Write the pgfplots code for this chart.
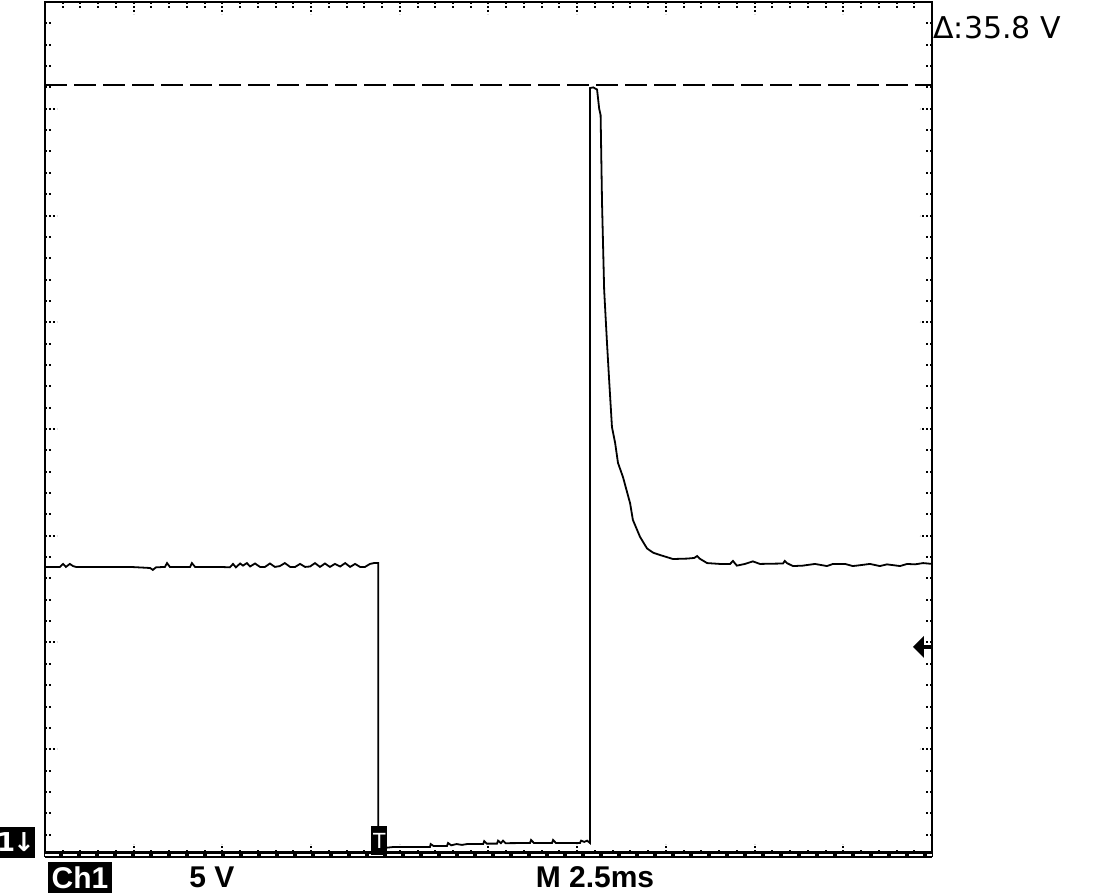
\documentclass[border=0pt]{standalone}
\usepackage{fontspec}
\setmainfont{Liberation Sans}
\newfontfamily\dejavu{DejaVu Sans}
\usepackage{pgfplots}
\pgfplotsset{compat=1.18}
\begin{document}
\begin{tikzpicture}
\useasboundingbox (-22.5pt,-19.5pt) rectangle (524.5pt,428pt);
\begin{axis}[
  scale only axis, width=443.5pt, height=427pt,
  at={(0,0)}, anchor=south west,
  xmin=0, xmax=25, ymin=0, ymax=40,
  xtick={0,2.5,...,25}, ytick={0,5,...,40},
  minor x tick num=4, minor y tick num=4,
  xticklabels={}, yticklabels={},
  tick align=inside,
  major tick length=6pt, minor tick length=3pt,
  every tick/.style={black, line width=1pt, dash pattern=on 1pt off 1pt},
  axis line style={line width=1.3pt},
  clip=false,
]
% cursors
\addplot[black, line width=1pt, dash pattern=on 11pt off 3.5pt] coordinates {(0,36.11) (25,36.11)};
\addplot[black, line width=3.5pt] coordinates {(0,0.08) (25,0.08)};
\addplot[white, line width=0.8pt, dash pattern=on 7pt off 2pt] coordinates {(0,0.05) (25,0.05)};
% trace
\addplot[black, line width=0.9pt] coordinates {
(0,13.54) (0.42,13.54) (0.51,13.68) (0.59,13.54) (0.70,13.68) (0.79,13.58) (0.87,13.54) (1.55,13.54) (2.40,13.54) (2.96,13.49) (3.04,13.40) (3.13,13.52) (3.38,13.54) (3.44,13.72) (3.52,13.54) (4.09,13.54) (4.14,13.72) (4.23,13.54) (4.93,13.54) (5.21,13.52) (5.30,13.68) (5.38,13.52) (5.50,13.70) (5.58,13.60) (5.69,13.72) (5.78,13.56) (5.92,13.70) (6.06,13.54) (6.20,13.54) (6.34,13.70) (6.48,13.54) (6.62,13.58) (6.76,13.72) (6.91,13.54) (7.05,13.54) (7.19,13.68) (7.33,13.54) (7.47,13.56) (7.61,13.72) (7.75,13.54) (7.89,13.70) (8.03,13.54) (8.17,13.68) (8.32,13.56) (8.46,13.72) (8.60,13.54) (8.74,13.68) (8.88,13.54) (9.02,13.54) (9.16,13.68) (9.27,13.72) (9.39,13.72)
(9.39,0.35)
(9.81,0.42) (10.85,0.42) (10.87,0.56) (10.95,0.47) (11.33,0.47) (11.36,0.61) (11.45,0.50) (11.60,0.56) (11.75,0.52) (11.90,0.56) (11.98,0.56) (12.35,0.56) (12.38,0.70) (12.45,0.58) (12.74,0.58) (12.77,0.72) (12.85,0.60) (12.91,0.72) (12.98,0.60) (13.67,0.61) (13.70,0.75) (13.78,0.61) (14.29,0.61) (14.32,0.75) (14.40,0.61) (15.08,0.61) (15.11,0.72) (15.20,0.66) (15.28,0.72) (15.36,0.61)
(15.36,35.97) (15.45,36.0) (15.56,35.90) (15.62,35.0) (15.66,34.7) (15.70,30.59) (15.76,26.51) (15.84,24.03) (15.90,22.30) (15.98,20.09) (16.07,19.34) (16.15,18.41) (16.29,17.75) (16.49,16.53) (16.57,15.74) (16.77,14.95) (16.97,14.40) (17.15,14.20) (17.33,14.10) (17.70,13.91) (18.10,13.93) (18.30,13.96) (18.38,14.05) (18.45,13.93) (18.66,13.72) (19.02,13.68) (19.31,13.68) (19.39,13.82) (19.50,13.60) (19.73,13.68) (19.95,13.80) (20.15,13.68) (20.80,13.70) (20.85,13.82) (20.91,13.72) (21.08,13.58) (21.36,13.60) (21.70,13.68) (22.04,13.58) (22.21,13.68) (22.55,13.68) (22.77,13.58) (22.97,13.62) (23.25,13.68) (23.53,13.58) (23.73,13.66) (24.10,13.58) (24.30,13.68) (24.52,13.66) (24.75,13.72) (25.0,13.68)
};
% trigger position marker
\node[fill=black, text=white, inner sep=0pt, minimum width=8pt, minimum height=14.5pt, anchor=south, font=\fontsize{11}{11}\selectfont] at (axis cs:9.42,0.03) {T};
% trigger level arrow
\fill[black] ([xshift=-9.5pt]axis cs:25,9.79) -- ([xshift=-4pt,yshift=5.5pt]axis cs:25,9.79) -- ([xshift=-4pt,yshift=-5.5pt]axis cs:25,9.79) -- cycle;
\fill[black] ([xshift=-4.5pt,yshift=-1pt]axis cs:25,9.79) rectangle ([yshift=1pt]axis cs:25,9.79);
\end{axis}
% labels outside
\node[anchor=base west, font=\dejavu\fontsize{15}{15}\selectfont, inner sep=0pt] at (444pt,408.5pt) {Δ:35.8 V};
\node[fill=black, text=white, inner sep=0pt, minimum width=32pt, minimum height=15.5pt, font=\bfseries\fontsize{15}{15}\selectfont] at (17.5pt,-10.75pt) {Ch1};
\node[anchor=base, inner sep=0pt, font=\bfseries\fontsize{15}{15}\selectfont] at (83.5pt,-16pt) {5 V};
\node[anchor=base, inner sep=0pt, font=\bfseries\fontsize{15}{15}\selectfont] at (275pt,-16pt) {M 2.5ms};
\node[fill=black, text=white, inner sep=0pt, minimum width=16pt, minimum height=15.5pt, font=\dejavu\bfseries\fontsize{13}{13}\selectfont] at (-14.5pt,6.75pt) {1\kern-1pt↓};
\end{tikzpicture}
\end{document}
